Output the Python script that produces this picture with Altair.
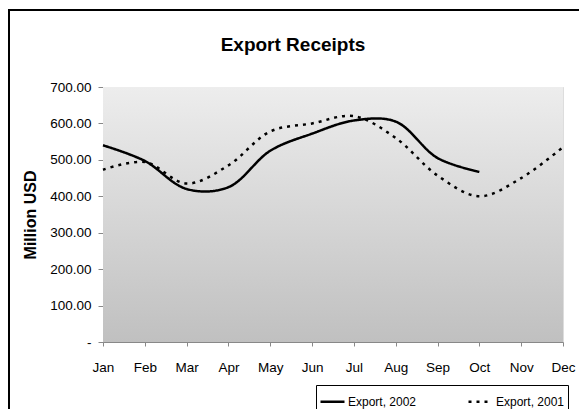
import altair as alt
import pandas as pd

months = ["Jan", "Feb", "Mar", "Apr", "May", "Jun", "Jul", "Aug", "Sep", "Oct", "Nov", "Dec"]
export_2002 = [540, 497, 420, 425, 525, 572, 608, 605, 505, 467]
export_2001 = [473, 494, 435, 485, 578, 600, 620, 560, 457, 400, 450, 535]
series_names = ["Export, 2002", "Export, 2001"]
y_ticks = [0, 100, 200, 300, 400, 500, 600, 700]

rows = []
for m, v in zip(months, export_2002):
    rows.append({"month": m, "value": v, "series": series_names[0]})
for m, v in zip(months, export_2001):
    rows.append({"month": m, "value": v, "series": series_names[1]})
df = pd.DataFrame(rows)

W, H = 460, 255
FONT = "Liberation Sans"
NB = "\u00a0"

grad = alt.LinearGradient(
    gradient="linear",
    stops=[alt.GradientStop(color="#ededed", offset=0),
           alt.GradientStop(color="#c0c0c0", offset=1)],
    x1=0, x2=0, y1=0, y2=1,
)

one = pd.DataFrame({"a": [0]})

bg = alt.Chart(one).mark_rect(color=grad).encode(
    x=alt.value(0), x2=alt.value(W), y=alt.value(0), y2=alt.value(H)
)

border = alt.Chart(one).mark_rect(filled=False, stroke="black", strokeWidth=2).encode(
    x=alt.value(-94), x2=alt.value(700), y=alt.value(-77), y2=alt.value(500)
)

zero_label = "-" + NB * 5
lines = alt.Chart(df).mark_line(
    interpolate="catmull-rom", color="black", strokeWidth=2.5
).encode(
    x=alt.X(
        "month:O", sort=months,
        scale=alt.Scale(type="point", padding=0),
        axis=alt.Axis(title=None, labelAngle=0, tickSize=4, labelPadding=14,
                      labelFontSize=13.5),
    ),
    y=alt.Y(
        "value:Q",
        scale=alt.Scale(domain=[0, 700], nice=False),
        axis=alt.Axis(
            values=y_ticks,
            labelExpr=f"datum.value == 0 ? '{zero_label}' : format(datum.value, '.2f')",
            title="Million USD", titleFontWeight="bold", titleFontSize=16,
            titleX=-73, titleY=H / 2, titleAngle=-90, titleAlign="center",
            titleBaseline="middle", tickSize=5, labelPadding=7, labelFontSize=13.5,
        ),
    ),
    strokeDash=alt.StrokeDash(
        "series:N",
        scale=alt.Scale(domain=series_names, range=[[1, 0], [3, 5]]),
        legend=alt.Legend(
            orient="none", legendX=213, legendY=298, direction="horizontal",
            title=None,
            padding=3, strokeColor="black", fillColor="white",
            symbolType="stroke", symbolSize=576, symbolStrokeWidth=2.5,
            symbolStrokeColor="black", labelFont=FONT, labelFontSize=12,
            labelColor="black", labelOffset=2, columnPadding=46,
            labelExpr=f"datum.label + '{NB * 3}'",
        ),
    ),
)

chart = alt.layer(bg, lines, border).properties(
    width=W, height=H,
    autosize="none",
    padding={"left": 103, "top": 87, "right": 16, "bottom": 67},
    title=alt.TitleParams(
        "Export Receipts", font=FONT, fontSize=19, fontWeight="bold",
        anchor="middle", frame="group", dx=-40, offset=0, dy=61,
        baseline="alphabetic", color="black",
    ),
).configure_axis(
    domainColor="black", domainWidth=1.5, tickColor="black", tickWidth=1,
    labelFont=FONT, labelColor="black", titleFont=FONT, titleColor="black",
    grid=False,
).configure_view(
    stroke="#a0a0a0", strokeWidth=1.5
).configure(background="white")

chart.save("out.html", embed_options={"renderer": "svg", "actions": False})
